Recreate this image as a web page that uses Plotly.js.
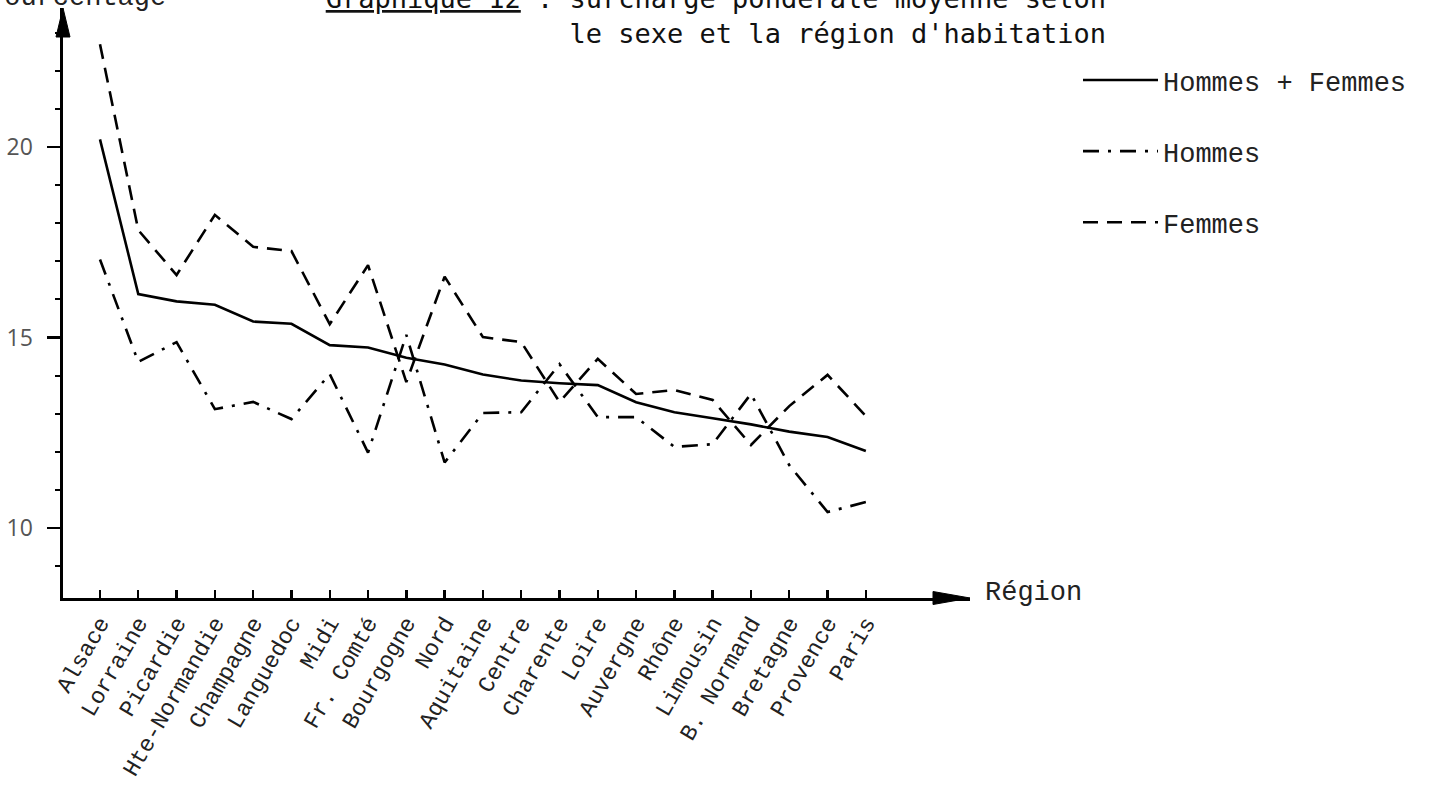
<!DOCTYPE html>
<html>
<head>
<meta charset="utf-8">
<script src="https://cdn.plot.ly/plotly-3.0.1.min.js"></script>
<style>
  html, body { margin: 0; padding: 0; background: #ffffff; }
  #chart { width: 1429px; height: 786px; }
</style>
</head>
<body>
<div id="chart"></div>
<script>
// ---- Data ----
const regions = ["Alsace", "Lorraine", "Picardie", "Hte-Normandie", "Champagne", "Languedoc", "Midi",
  "Fr. Comté", "Bourgogne", "Nord", "Aquitaine", "Centre", "Charente", "Loire", "Auvergne",
  "Rhône", "Limousin", "B. Normand", "Bretagne", "Provence", "Paris"];

const hommesFemmes = [20.2, 16.14, 15.95, 15.86, 15.42, 15.36, 14.8, 14.74, 14.47, 14.29, 14.03,
  13.87, 13.8, 13.75, 13.3, 13.04, 12.88, 12.72, 12.53, 12.39, 12.02];

const hommes = [17.05, 14.36, 14.88, 13.12, 13.31, 12.86, 14.04, 11.98, 15.07, 11.72, 13.02,
  13.04, 14.3, 12.91, 12.91, 12.13, 12.2, 13.52, 11.65, 10.42, 10.68];

const femmes = [22.7, 17.82, 16.64, 18.22, 17.38, 17.27, 15.35, 16.9, 13.83, 16.6, 15.01,
  14.88, 13.31, 14.44, 13.52, 13.62, 13.36, 12.18, 13.2, 14.02, 12.94];

const seriesNames = ["Hommes + Femmes", "Hommes", "Femmes"];
const yTickValues = [10, 15, 20];

const titleLine1 = "<u>Graphique 12</u> : surcharge pondérale moyenne selon";
const titleLine2 = "le sexe et la région d'habitation";
const yLabel = "Pourcentage";
const xLabel = "Région";

// ---- Geometry helpers (pixel layout of the page) ----
const W = 1429, H = 786;
const L = 63, T = 8, PW = 907, PH = 590;
const px = p => (p - L) / PW;          // page pixel x -> paper x
const py = p => (T + PH - p) / PH;     // page pixel y -> paper y

const mono = "Liberation Mono, Courier New, monospace";
const lineW = 2.6;

const traces = [
  { x: regions, y: hommesFemmes, name: seriesNames[0], legendgroup: "a",
    type: "scatter", mode: "lines",
    line: { color: "#000", width: lineW, dash: "solid" } },
  { x: regions, y: hommes, name: seriesNames[1], legendgroup: "b",
    type: "scatter", mode: "lines",
    line: { color: "#000", width: lineW, dash: "16px,9px,3px,9px" } },
  { x: regions, y: femmes, name: seriesNames[2], legendgroup: "c",
    type: "scatter", mode: "lines",
    line: { color: "#000", width: lineW, dash: "15px,9px" } }
];

const layout = {
  width: W, height: H,
  paper_bgcolor: "#ffffff", plot_bgcolor: "#ffffff",
  margin: { l: L, t: T, r: W - L - PW, b: H - T - PH, pad: 0 },
  showlegend: true,
  title: {
    text: titleLine1 + "<br>" + titleLine2,
    font: { family: "DejaVu Sans Mono, monospace", size: 27, color: "#111" },
    xref: "container", yref: "container",
    x: 1106 / W, xanchor: "right",
    y: 1 - 8 / H, yanchor: "middle"
  },
  xaxis: {
    type: "category",
    range: [-0.966, 22.72],
    showline: true, linecolor: "#000", linewidth: 2.6,
    showgrid: false, zeroline: false,
    tickmode: "array", tickvals: regions, ticktext: regions,
    ticks: "inside", ticklen: 8, tickwidth: 2.4, tickcolor: "#000",
    tickangle: -60,
    tickfont: { family: mono, size: 23, color: "#222" },
    fixedrange: true
  },
  yaxis: {
    range: [8.163, 23.65],
    showline: true, linecolor: "#000", linewidth: 2.6,
    showgrid: false, zeroline: false,
    tickmode: "array", tickvals: yTickValues, ticktext: yTickValues.map(String),
    ticks: "outside", ticklen: 13, tickwidth: 2.2, tickcolor: "#000",
    ticklabelstandoff: 10,
    tickfont: { family: "Open Sans, DejaVu Sans, sans-serif", size: 23, color: "#555" },
    minor: { tickmode: "linear", tick0: 0, dtick: 1, ticks: "outside", ticklen: 5,
             tickwidth: 2, tickcolor: "#000", showgrid: false },
    fixedrange: true
  },
  legend: {
    x: px(1078), y: py(56), xanchor: "left", yanchor: "top",
    bgcolor: "rgba(0,0,0,0)", borderwidth: 0,
    font: { family: mono, size: 27, color: "#222" },
    tracegroupgap: 33, itemwidth: 75
  },
  annotations: [
    { text: yLabel, xref: "paper", yref: "paper", x: px(168), y: py(15),
      xanchor: "right", yanchor: "bottom", showarrow: false,
      font: { family: mono, size: 27, color: "#222" } },
    { text: xLabel, xref: "paper", yref: "paper", x: px(983), y: py(593),
      xanchor: "left", yanchor: "middle", showarrow: false,
      font: { family: mono, size: 27, color: "#222" } }
  ],
  shapes: [
    // arrow head of the x axis
    { type: "path", xref: "paper", yref: "paper",
      path: `M ${px(933)} ${py(591.5)} L ${px(970)} ${py(598)} L ${px(933)} ${py(604.5)} Z`,
      fillcolor: "#000", line: { color: "#000", width: 1 } },
    // arrow head of the y axis
    { type: "path", xref: "paper", yref: "paper",
      path: `M ${px(56)} ${py(37)} L ${px(63)} ${py(8)} L ${px(70)} ${py(37)} Z`,
      fillcolor: "#000", line: { color: "#000", width: 1 } }
  ]
};

Plotly.newPlot("chart", traces, layout, { staticPlot: true, displayModeBar: false });
</script>
</body>
</html>
